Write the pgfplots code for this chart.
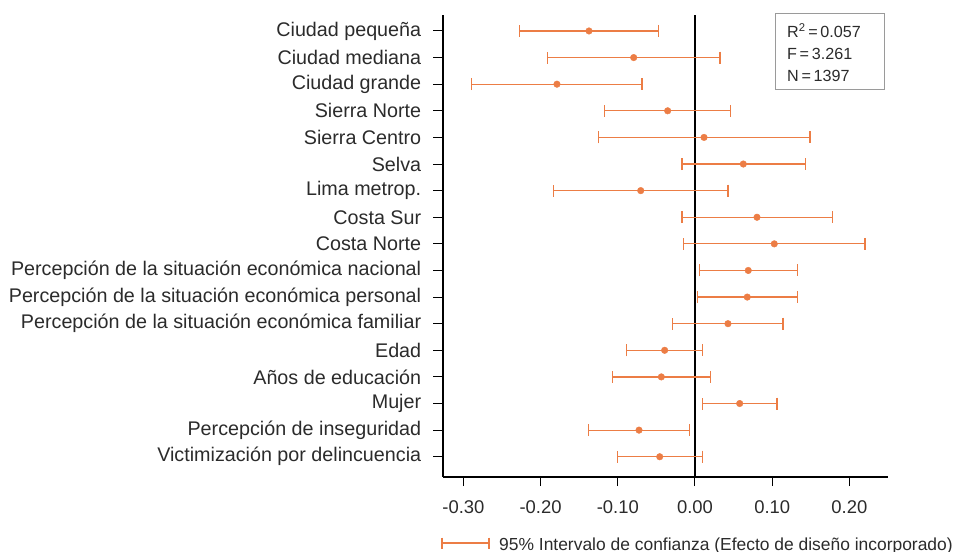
\documentclass[border=0pt]{standalone}
\usepackage{pgfplots}
\usepackage{pgfplotstable}
\pgfplotsset{compat=1.18}
\usepackage{fontspec}
\setmainfont{Liberation Sans}
\definecolor{ciorange}{HTML}{EC7D45}
\definecolor{txtgray}{HTML}{2B2B2B}
\definecolor{boxgray}{HTML}{9A9A9A}

% row: 17 = top (Ciudad pequena) ... 1 = bottom
\pgfplotstableread{
row est lo hi
17 -0.1373 -0.2276 -0.0475
16 -0.0794 -0.1908 0.0324
15 -0.1788 -0.2893 -0.0687
14 -0.0354 -0.1170 0.0462
13 0.0117 -0.1252 0.1490
12 0.0626 -0.0168 0.1429
11 -0.0703 -0.1830 0.0427
10 0.0803 -0.0168 0.1779
9 0.1027 -0.0151 0.2202
8 0.0690 0.0056 0.1325
7 0.0677 0.0030 0.1325
6 0.0427 -0.0294 0.1140
5 -0.0393 -0.0885 0.0095
4 -0.0436 -0.1070 0.0198
3 0.0579 0.0100 0.1062
2 -0.0725 -0.1377 -0.0069
1 -0.0457 -0.1006 0.0095
}\coefs

\begin{document}
\begin{tikzpicture}
\begin{axis}[
  scale only axis,
  width=445.3bp, height=461.7bp,
  xmin=-0.3268, xmax=0.25,
  ymin=0.25, ymax=17.6,
  axis x line*=bottom, axis y line*=left,
  axis line style={black, line width=1.8bp},
  tick align=outside,
  major tick length=9.5bp,
  tick style={black, line width=1bp},
  xtick={-0.3,-0.2,-0.1,0,0.1,0.2},
  xticklabels={-0.30,-0.20,-0.10,0.00,0.10,0.20},
  ytick={1,...,17},
  yticklabels={Victimización por delincuencia,Percepción de inseguridad,Mujer,Años de educación,Edad,Percepción de la situación económica familiar,Percepción de la situación económica personal,Percepción de la situación económica nacional,Costa Norte,Costa Sur,Lima metrop.,Selva,Sierra Centro,Sierra Norte,Ciudad grande,Ciudad mediana,Ciudad pequeña},
  yticklabel style={font=\fontsize{19.8}{22}\selectfont, text=txtgray, anchor=east, xshift=-8.5bp},
  xticklabel style={font=\fontsize{18.5}{21}\selectfont, text=txtgray, yshift=-11bp},
  clip=false,
]
\draw[black, line width=2bp] (axis cs:0,0.25) -- (axis cs:0,17.6);
\addplot[only marks, mark=*, mark size=3.3bp, ciorange,
  mark options={fill=ciorange, draw=ciorange},
  error bars/.cd, x dir=both, x explicit,
  error mark=|,
  error bar style={line width=1.2bp, ciorange},
  error mark options={mark size=6bp, line width=1.2bp, ciorange}]
  table[x=est, y=row,
        x error plus expr=\thisrow{hi}-\thisrow{est},
        x error minus expr=\thisrow{est}-\thisrow{lo}] {\coefs};
\end{axis}
% stats box
\draw[boxgray, line width=1bp] (332.3bp,386.7bp) rectangle (441.3bp,462.7bp);
\begin{scope}[every node/.style={anchor=base west, inner sep=0pt, text=txtgray, font=\fontsize{16.2}{18}\selectfont}]
\node at (344.3bp,439.4bp) {R\textsuperscript{2}\,=\,0.057};
\node at (344.3bp,417.4bp) {F\,=\,3.261};
\node at (344.3bp,395.0bp) {N\,=\,1397};
\end{scope}
% legend
\draw[ciorange, line width=1.2bp] (-0.7bp,-66.3bp) -- (46.3bp,-66.3bp);
\draw[ciorange, line width=1.2bp] (-0.7bp,-60.8bp) -- (-0.7bp,-71.8bp);
\draw[ciorange, line width=1.2bp] (46.3bp,-60.8bp) -- (46.3bp,-71.8bp);
\node[anchor=base west, inner sep=0pt, text=txtgray, font=\fontsize{17.5}{20}\selectfont] at (56.3bp,-73.3bp) {95\% Intervalo de confianza (Efecto de diseño incorporado)};
\pgfresetboundingbox
\path (-442.7bp,-75.3bp) rectangle (512.3bp,476.7bp);
\end{tikzpicture}
\end{document}
